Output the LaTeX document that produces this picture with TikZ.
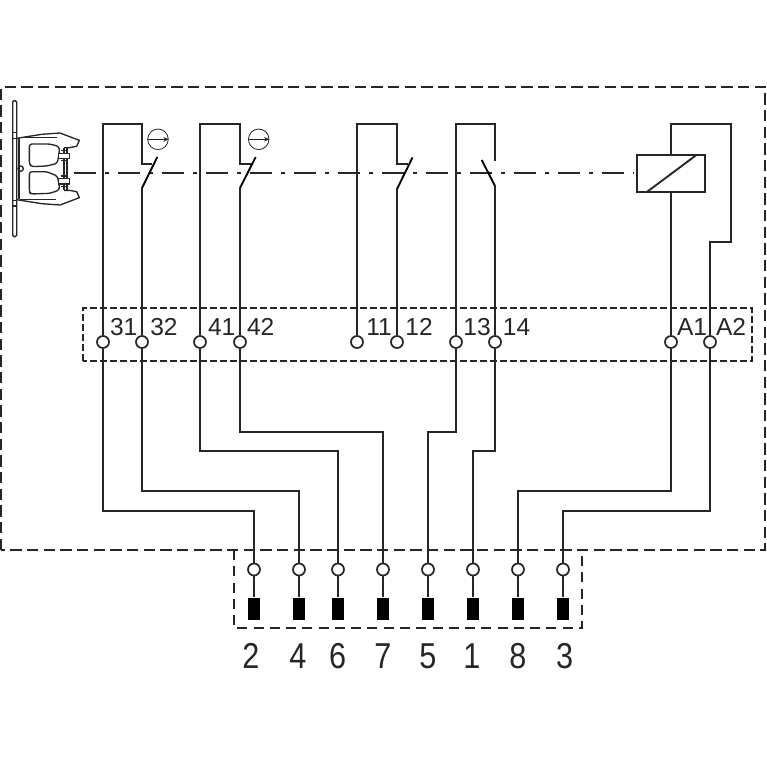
\documentclass[tikz,border=0pt]{standalone}
\usepackage{fontspec}
\usetikzlibrary{arrows.meta}
\setmainfont{Liberation Sans}
\definecolor{ink}{HTML}{262626}
\tikzset{
  wire/.style={draw=ink,line width=1.4pt,line join=miter},
  blade/.style={draw=black,line width=1.4pt},
  thin part/.style={draw=ink,line width=1pt,line join=round},
  outerbox/.style={draw=ink,line width=1.6pt,dash pattern=on 8.6pt off 3.9pt},
  midbox/.style={draw=ink,line width=1.3pt,dash pattern=on 5pt off 2.5pt},
  lowbox/.style={draw=ink,line width=1.3pt,dash pattern=on 7.5pt off 4.7pt},
  link/.style={draw=ink,line width=1.4pt,dash pattern=on 16.5pt off 6.5pt on 3.5pt off 6.5pt},
  term/.style={circle,draw=ink,fill=white,line width=1.3pt,inner sep=0pt,minimum size=9pt},
  plug/.style={rectangle,fill=black,inner sep=0pt,minimum width=9.5pt,minimum height=17pt},
  contactlabel/.style={inner sep=0pt,font=\fontsize{18.4pt}{18.4pt}\selectfont,text=ink},
  pinlabel/.style={inner sep=0pt,font=\fontsize{27pt}{27pt}\selectfont,text=ink,xscale=0.85},
  coil/.style={rectangle,draw=ink,line width=1.4pt,inner sep=0pt,minimum width=50.5pt,minimum height=27.6pt},
  dial/.style={circle,draw=ink,line width=0.6pt,inner sep=0pt,minimum size=15.4pt},
}
\begin{document}
\begin{tikzpicture}[x=0.75pt,y=-0.75pt]
\useasboundingbox (0,0) rectangle (767,767);
\fill[white] (0,0) rectangle (767,767);

% dashed enclosures
\draw[outerbox] (1,550) -- (1,87) -- (765,87) -- (765,550) -- (1,550);
\draw[midbox] (83,361) rectangle (752,308);
\draw[lowbox] (234,550) -- (234,628) -- (582,628) -- (582,550);

% terminals
\foreach \n/\x in {31/103,32/142,41/200,42/240,11/357,12/397,13/456,14/495,A1/671,A2/710}
  \node[term] (t\n) at (\x,342) {};
\foreach \n/\x in {2/254,4/299,6/338,7/383,5/428,1/473,8/518,3/563}{
  \node[term] (c\n) at (\x,569.5) {};
  \node[plug] (p\n) at (\x,609) {};
  \draw[wire] (c\n) -- (p\n);
}
\foreach \n/\x in {2/251,4/298,6/337.7,7/383,5/428,1/472,8/518,3/564.7}
  \node[pinlabel] (l\n) at (\x,656) {\n};
\foreach \n/\x in {31/123.7,32/164,41/221.7,42/260.7,11/379,12/419,13/477,14/516.5,A1/692,A2/731}
  \node[contactlabel] (n\n) at (\x,326.7) {\n};

% relay and mechanical link
\node[coil] (relay) at (671,173.7) {};
\draw[wire] (646.7,192.1) -- (696,155.3);
\coordinate (linkstart) at (74,173);
\coordinate (linkend) at (632.7,173);
\draw[link] (linkstart) -- (linkend);

% contacts, upper wiring
\draw[wire] (t31) -- (103,124) -- (142,124) -- (142,164) -- (152,164);
\draw[wire] (t32) -- (142,188);
\draw[blade] (142,188) -- (157.3,157);
\draw[wire] (t41) -- (200,124) -- (240,124) -- (240,164) -- (250.5,164);
\draw[wire] (t42) -- (240,188);
\draw[blade] (240,188) -- (255.7,157);
\draw[wire] (t11) -- (357,124) -- (397,124) -- (397,164) -- (408,164);
\draw[wire] (t12) -- (397,189);
\draw[blade] (397,189) -- (412.5,157.5);
\draw[wire] (t13) -- (456,124) -- (495,124) -- (495,161);
\draw[wire] (t14) -- (495,186);
\draw[blade] (495,186) -- (481.7,160);
\draw[wire] (tA1) -- (relay);
\draw[wire] (tA2) -- (710,242) -- (731,242) -- (731,124) -- (671,124) -- (relay);

% direction dials
\node[dial] (d1) at (158,139.3) {};
\node[dial] (d2) at (258.7,139.3) {};
\draw[draw=ink,line width=0.7pt,-{Stealth[length=4pt,width=3.5pt]}] (d1.west) -- (d1.east);
\draw[draw=ink,line width=0.7pt,-{Stealth[length=4pt,width=3.5pt]}] (d2.west) -- (d2.east);

% lower wiring
\draw[wire] (t31) -- (103,511) -| (c2);
\draw[wire] (t32) -- (142,491) -| (c4);
\draw[wire] (t41) -- (200,451) -| (c6);
\draw[wire] (t42) -- (240,432) -| (c7);
\draw[wire] (t13) -- (456,432) -| (c5);
\draw[wire] (t14) -- (495,451) -| (c1);
\draw[wire] (tA1) -- (671,491) -| (c8);
\draw[wire] (tA2) -- (710,511) -| (c3);

% actuator key
\begin{scope}[shift={(0,80)},x=0.25pt,y=-0.25pt]
  \draw[thin part,rounded corners=1pt] (38,62) rectangle (50,470);
  \draw[thin part] (38,158) -- (50,158) (38,175) -- (50,175) (38,362) -- (50,362) (38,378) -- (50,378);
  \draw[thin part] (57,175) -- (57,358);
  \draw[thin part] (50,175) -- (125,163) -- (180,159) -- (238,181) -- (230,199) -- (208,203) -- (192,203);
  \draw[thin part] (50,359) -- (125,371) -- (180,375) -- (238,353) -- (230,335) -- (208,331) -- (192,331);
  \draw[thin part] (60,172) -- (170,172) (60,358) -- (168,358);
  \draw[thin part,rounded corners=2pt] (88,192) -- (150,192) -- (178,200) -- (178,215) -- (172,250) -- (140,258) -- (95,260) -- (88,252) -- cycle;
  \draw[thin part,rounded corners=2pt] (88,275) -- (140,275) -- (172,288) -- (178,318) -- (178,330) -- (150,340) -- (92,342) -- (88,335) -- cycle;
  \draw[thin part] (192,203) -- (192,331) (201,203) -- (201,331);
  \draw[thin part,fill=white] (176,220) rectangle (208,236);
  \draw[thin part,fill=white] (176,296) rectangle (208,312);
  \draw[thin part] (182,212) -- (204,212) (182,242) -- (204,242) (182,288) -- (204,288) (182,320) -- (204,320);
  \draw[thin part] (62,266) circle (8);
\end{scope}
\end{tikzpicture}
\end{document}
